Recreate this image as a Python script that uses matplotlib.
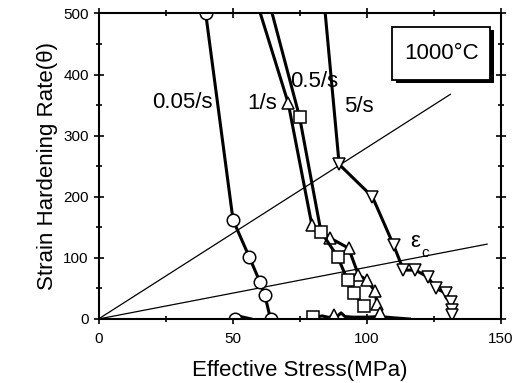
import matplotlib
matplotlib.use("Agg")
import matplotlib.pyplot as plt
from matplotlib.patches import Rectangle
from matplotlib.ticker import MultipleLocator

plt.rcParams['font.family'] = ['Liberation Sans', 'DejaVu Sans']

# ---- data ----
# 0.05/s (circles)
r005_x = [40.0, 50.2, 56.3, 60.2, 62.0, 64.2]
r005_y = [500, 162, 101, 61, 40, 0]
r005_low_x = [51.0, 53.0, 55.0, 57.0]
r005_low_y = [0, 4, 2, 0]

# 1/s (up triangles)
r1_x = [60.4, 70.8, 79.6, 86.2, 93.3, 97.0, 100.1, 103.2, 103.9, 105.1]
r1_y = [500, 353, 154, 133, 116, 72, 64, 45, 24, 10]
r1_low_x = [86.0, 87.7, 89.0, 90.5, 92.0, 95.0, 100.0, 105.0, 110.0, 116.0]
r1_low_y = [2, 7, 4, 10, 4, 3, 3, 4, 2, 0]

# 0.5/s (squares)
r05_x = [64.8, 75.0, 83.0, 89.2, 93.0, 95.2, 98.9]
r05_y = [500, 331, 143, 102, 63, 43, 22]
r05_low_x = [80.2, 82.0, 83.5, 85.5]
r05_low_y = [4, 4, 5, 3]

# 5/s (down triangles)
r5_x = [84.6, 89.8, 102.2, 110.1, 113.8, 118.2, 122.8, 125.9, 129.8, 131.5, 131.9, 131.9]
r5_y = [500, 253, 200, 121, 80, 80, 69, 50, 42, 28, 15, 6]

# reference lines through the origin
ref1_x = [0, 131.3]
ref1_y = [0, 367.6]
ref2_x = [0, 145.0]
ref2_y = [0, 122.5]

rate_labels = ["0.05/s", "1/s", "0.5/s", "5/s"]
xticks = [0, 50, 100, 150]
yticks = [0, 100, 200, 300, 400, 500]

# ---- figure ----
fig = plt.figure(figsize=(5.21, 3.83), dpi=100)
ax = fig.add_axes([98.5 / 521, 64 / 383, 402 / 521, 305.6 / 383])

ax.plot(ref1_x, ref1_y, color='black', lw=0.9)
ax.plot(ref2_x, ref2_y, color='black', lw=0.9)

mk = dict(color='black', lw=2.2, markersize=9, markerfacecolor='white',
          markeredgecolor='black', markeredgewidth=1.1)

ax.plot(r005_low_x, r005_low_y, marker='o', markevery=[0], **mk)
ax.plot(r005_x, r005_y, marker='o', **mk)

ax.plot(r05_low_x, r05_low_y, marker='s', markevery=[0], **mk)
ax.plot(r1_low_x, r1_low_y, marker='^', markevery=[1], **mk)

ax.plot(r1_x, r1_y, marker='^', markevery=list(range(1, len(r1_x))), **mk)
ax.plot(r05_x, r05_y, marker='s', markevery=list(range(1, len(r05_x))), **mk)
ax.plot(r5_x, r5_y, marker='v', markevery=list(range(1, len(r5_x))), **mk)

ax.set_xlim(0, 150)
ax.set_ylim(0, 500)
ax.set_xticks(xticks)
ax.set_yticks(yticks)
ax.xaxis.set_minor_locator(MultipleLocator(25))
ax.yaxis.set_minor_locator(MultipleLocator(50))
ax.tick_params(which='both', direction='inout', top=True, right=True,
               labelsize=11, width=1.2)
ax.tick_params(axis='x', which='major', pad=6)
ax.tick_params(which='major', length=7)
ax.tick_params(which='minor', length=5)
for s in ax.spines.values():
    s.set_linewidth(1.5)

ax.set_xlabel("Effective Stress(MPa)", fontsize=16, labelpad=10)
ax.set_ylabel("Strain Hardening Rate(\u03b8)", fontsize=16, labelpad=4)

# labels
ax.text(20.0, 355, rate_labels[0], fontsize=16, va='center', ha='left')
ax.text(55.5, 353, rate_labels[1], fontsize=16, va='center', ha='left')
ax.text(71.5, 389, rate_labels[2], fontsize=16, va='center', ha='left')
ax.text(91.5, 347, rate_labels[3], fontsize=16, va='center', ha='left')
ax.text(116.3, 126, "\u03b5", fontsize=16, va='center', ha='left')
ax.text(120.3, 108, "c", fontsize=11, va='center', ha='left')

# boxed temperature label with shadow
bx0, by0, bw, bh = 109.5, 391, 36.7, 87
ax.add_patch(Rectangle((bx0 + 1.5, by0 - 5), bw, bh, facecolor='black',
                       edgecolor='black', lw=0, zorder=5))
ax.add_patch(Rectangle((bx0, by0), bw, bh, facecolor='white',
                       edgecolor='black', lw=1.3, zorder=6))
ax.text(bx0 + bw / 2, by0 + bh / 2, "1000\u00b0C", fontsize=16,
        ha='center', va='center', zorder=7)

fig.savefig("out.png", dpi=100)
